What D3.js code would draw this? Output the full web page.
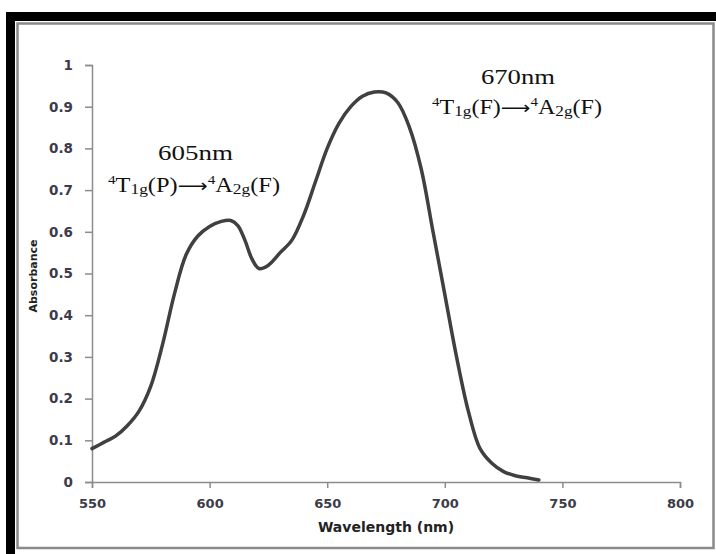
<!DOCTYPE html>
<html><head><meta charset="utf-8">
<script src="https://cdn.jsdelivr.net/npm/d3@7"></script>
<style>body{margin:0;background:#fff}svg{display:block}</style>
</head><body>
<script>
const wavelength = [550,555,560,565,570,575,580,585,590,595,600,605,609,612,615,618,621,625,630,635,640,645,650,655,660,665,670,675,680,685,690,695,700,705,710,715,720,725,730,735,740];
const absorbance = [0.08,0.095,0.11,0.135,0.17,0.23,0.33,0.45,0.545,0.59,0.613,0.625,0.627,0.615,0.58,0.535,0.512,0.52,0.55,0.58,0.64,0.72,0.80,0.86,0.90,0.925,0.935,0.933,0.91,0.85,0.75,0.60,0.45,0.30,0.17,0.08,0.045,0.025,0.015,0.01,0.005];
const xTicks = [550,600,650,700,750,800];
const yTicks = [0,0.1,0.2,0.3,0.4,0.5,0.6,0.7,0.8,0.9,1];
const xTitle = "Wavelength (nm)";
const yTitle = "Absorbance";

const W = 716, H = 554;
const svg = d3.select("body").append("svg").attr("width", W).attr("height", H);
svg.append("rect").attr("width", W).attr("height", H).attr("fill", "#fff");

// frame
svg.append("rect").attr("x", 6).attr("y", 12).attr("width", W - 6).attr("height", 9).attr("fill", "#000");
svg.append("rect").attr("x", 6).attr("y", 12).attr("width", 9).attr("height", H - 12).attr("fill", "#000");
svg.append("rect").attr("x", 17.5).attr("y", 23.5).attr("width", 696).attr("height", 524.5)
  .attr("fill", "none").attr("stroke", "#8a8a8a").attr("stroke-width", 2.5);

const x = d3.scaleLinear().domain([550, 800]).range([92, 680]);
const y = d3.scaleLinear().domain([0, 1]).range([482, 65]);

const axisColor = "#8c8c8c";
const labelColor = "#3c3c48";

const xa = svg.append("g").attr("transform", `translate(0,${y(0)})`)
  .call(d3.axisBottom(x).tickValues(xTicks).tickSize(6).tickPadding(11).tickFormat(d3.format("d")));
const ya = svg.append("g").attr("transform", `translate(${x(550)},0)`)
  .call(d3.axisLeft(y).tickValues(yTicks).tickSize(7).tickPadding(12).tickFormat(d => d === 0 ? "0" : d === 1 ? "1" : d3.format(".1f")(d)));
[xa, ya].forEach(g => {
  g.selectAll("path,line").attr("stroke", axisColor).attr("stroke-width", 1.5);
  g.selectAll("text").attr("fill", labelColor).attr("font-family", "DejaVu Sans").attr("font-weight", "bold").attr("font-size", 13);
});
ya.selectAll("text").attr("font-size", 13.5);

svg.append("text").attr("x", 386).attr("y", 532).attr("text-anchor", "middle")
  .attr("font-family", "DejaVu Sans").attr("font-weight", "bold").attr("font-size", 14).attr("fill", "#222").text(xTitle);
svg.append("text").attr("transform", `translate(37,276) rotate(-90)`).attr("text-anchor", "middle")
  .attr("font-family", "DejaVu Sans").attr("font-weight", "bold").attr("font-size", 11).attr("fill", "#222").text(yTitle);

const data = wavelength.map((w, i) => [w, absorbance[i]]);
svg.append("path").datum(data)
  .attr("d", d3.line().x(d => x(d[0])).y(d => y(d[1])).curve(d3.curveCatmullRom.alpha(0.5)))
  .attr("fill", "none").attr("stroke", "#404040").attr("stroke-width", 3.5).attr("stroke-linejoin", "round").attr("stroke-linecap", "round");

// annotations (stretched horizontally to match the reference's wide serif text)
function fitText(sel, x0, y0, target) {
  const w = sel.node().getComputedTextLength();
  sel.attr("transform", `translate(${x0},${y0}) scale(${target / w},1)`);
}
function annot(x1, y1, w1, x2, y2, w2, peak, parts) {
  const t1 = svg.append("text").attr("font-family", "Liberation Serif").attr("font-size", 21).attr("fill", "#111").text(peak);
  fitText(t1, x1, y1, w1);
  const t = svg.append("text").attr("font-family", "Liberation Serif").attr("fill", "#111");
  parts.forEach(p => {
    const s = t.append("tspan").attr("font-size", p[1]).attr("dy", p[2]).text(p[0]);
    if (p[3]) s.attr("font-family", p[3]);
  });
  fitText(t, x2, y2, w2);
}
const seq = (a) => [["4", 13, -8], ["T", 21, 8], ["1g", 15, 2], ["(" + a + ")", 21, -2], ["\u27F6", 18, 0, "DejaVu Sans"], ["4", 13, -8], ["A", 21, 8], ["2g", 15, 2], ["(F)", 21, -2]];
annot(158, 160, 75, 108, 192, 172, "605nm", seq("P"));
annot(481, 84, 74, 432, 114, 170, "670nm", seq("F"));
</script>
</body></html>
